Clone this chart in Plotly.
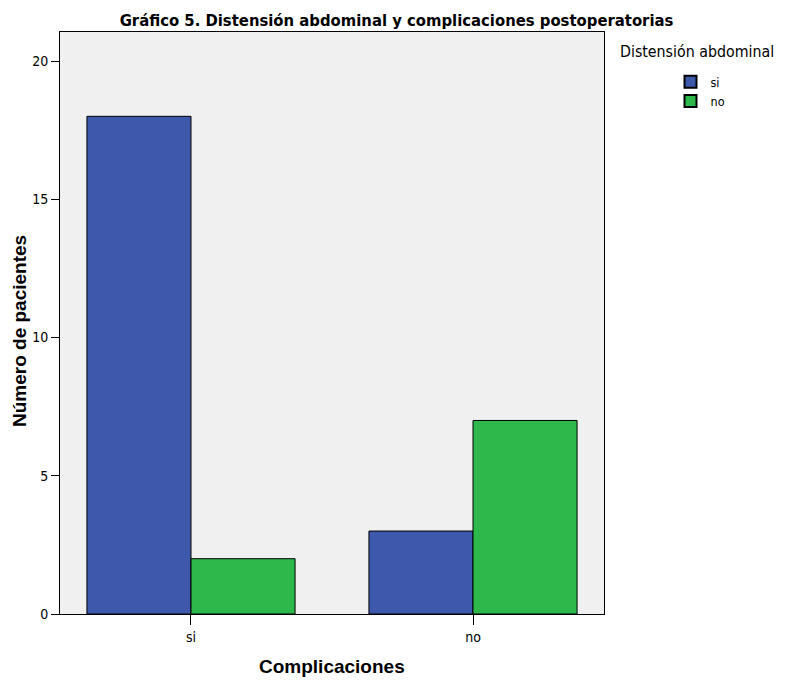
import plotly.graph_objects as go

categories = ["si", "no"]
series_names = ["si", "no"]
values_si = [18, 3]
values_no = [2, 7]
y_ticks = [0, 5, 10, 15, 20]

colors = {"si": "#3E58AC", "no": "#2EB84B"}
narrow = "Liberation Sans Narrow, Arial Narrow, DejaVu Sans Condensed, sans-serif"
normal = "Liberation Sans, Arial, sans-serif"

# the page body adds an 8px margin; positions below are page pixels minus that offset
OFF = 8
W, H = 785 - OFF, 680 - OFF
L, T = 60 - OFF, 32 - OFF
R = W - (604 - OFF)
B = H - (614 - OFF)
PW, PH = W - L - R, H - T - B

def px_x(x):
    return (x - OFF - L) / PW

def px_y(y):
    return (H - B - (y - OFF)) / PH

fig = go.Figure()
for name, vals in zip(series_names, [values_si, values_no]):
    fig.add_trace(go.Bar(
        x=categories, y=vals, name=name,
        marker=dict(color=colors[name], line=dict(color="black", width=1)),
    ))

fig.update_layout(
    width=W, height=H,
    margin=dict(l=L, r=R, t=T, b=B, autoexpand=False),
    paper_bgcolor="white", plot_bgcolor="#F0F0F0",
    barmode="group", bargap=0.262, bargroupgap=0,
    title=dict(text="<b>Gráfico 5. Distensión abdominal y complicaciones postoperatorias</b>",
               x=0.5, xanchor="center", y=1 - 12.5 / H, yanchor="middle",
               font=dict(family=narrow, size=16.5, color="black")),
    showlegend=True,
    legend=dict(x=px_x(670.5), xanchor="left", y=px_y(67), yanchor="top",
                font=dict(family=narrow, size=12.5, color="black"),
                tracegroupgap=0, itemsizing="constant", itemwidth=30,
                bgcolor="rgba(0,0,0,0)"),
    annotations=[
        dict(text="Distensión abdominal", xref="paper", yref="paper",
             x=px_x(618), xanchor="left", y=px_y(52), yanchor="middle",
             showarrow=False, font=dict(family=narrow, size=15.8, color="black")),
        dict(text="<b>Complicaciones</b>", xref="paper", yref="paper",
             x=0.5, xanchor="center", y=px_y(667), yanchor="middle",
             showarrow=False, font=dict(family=normal, size=19, color="black")),
        dict(text="<b>Número de pacientes</b>", xref="paper", yref="paper",
             x=px_x(19), xanchor="center", y=px_y(331), yanchor="middle", textangle=-90,
             showarrow=False, font=dict(family=normal, size=19, color="black")),
    ],
)
fig.update_xaxes(
    range=[-0.4645, 1.4645], showgrid=False, zeroline=False, automargin=False,
    showline=True, linecolor="black", linewidth=1, mirror=True,
    ticks="outside", ticklen=10, tickcolor="black",
    tickfont=dict(family=narrow, size=14, color="black"),
)
fig.update_yaxes(
    range=[0, 21.05], tickvals=y_ticks, showgrid=False, zeroline=False, automargin=False,
    showline=True, linecolor="black", linewidth=1, mirror=True,
    ticks="outside", ticklen=8, tickcolor="black",
    tickfont=dict(family=narrow, size=14, color="black"),
)

fig.write_html("out.html")
